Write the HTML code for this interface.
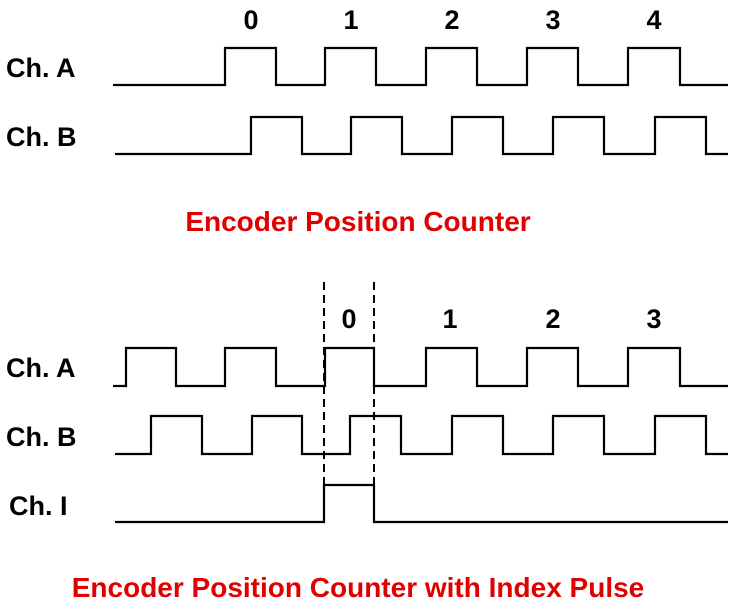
<!DOCTYPE html>
<html><head><style>
html,body{margin:0;padding:0;background:#fff;width:739px;height:603px;overflow:hidden}
text{font-family:"Liberation Sans",Arial,sans-serif;font-weight:bold}
</style></head><body>
<svg width="739" height="603" viewBox="0 0 739 603" xmlns="http://www.w3.org/2000/svg">
<g fill="none" stroke="#000" stroke-width="2.2">
<polyline points="113,85 225,85 225,48 276,48 276,85 325,85 325,48 376,48 376,85 426,85 426,48 477,48 477,85 527,85 527,48 578,48 578,85 628,85 628,48 680,48 680,85 728,85"/>
<polyline points="115,154 251,154 251,117 302,117 302,154 351,154 351,117 402,117 402,154 452,154 452,117 503,117 503,154 553,154 553,117 604,117 604,154 655,154 655,117 706,117 706,154 728,154"/>
<polyline points="113,386 126,386 126,348 176,348 176,386 225,386 225,348 276,348 276,386 325,386 325,348 374,348 374,386 426,386 426,348 477,348 477,386 527,386 527,348 578,348 578,386 628,386 628,348 680,348 680,386 728,386"/>
<polyline points="115,454 151,454 151,416 202,416 202,454 252,454 252,416 302,416 302,454 350,454 350,416 401,416 401,454 452,454 452,416 503,416 503,454 553,454 553,416 604,416 604,454 655,454 655,416 706,416 706,454 728,454"/>
<polyline points="115,522 324,522 324,485 374,485 374,522 728,522"/>
</g>
<g stroke="#000" stroke-width="2" stroke-dasharray="8,5">
<line x1="324" y1="282" x2="324" y2="522"/>
<line x1="374" y1="282" x2="374" y2="522"/>
</g>
<g font-size="27" fill="#000">
<text x="6" y="77">Ch. A</text>
<text x="6" y="146">Ch. B</text>
<text x="6" y="377">Ch. A</text>
<text x="6" y="446">Ch. B</text>
<text x="9" y="515">Ch. I</text>
</g>
<g font-size="27" fill="#000" text-anchor="middle">
<text x="251" y="29">0</text><text x="351" y="29">1</text><text x="452" y="29">2</text><text x="553" y="29">3</text><text x="654" y="29">4</text>
<text x="349" y="328">0</text><text x="450" y="328">1</text><text x="553" y="328">2</text><text x="654" y="328">3</text>
</g>
<g font-size="28" fill="#e00000" text-anchor="middle">
<text x="358" y="231">Encoder Position Counter</text>
<text x="358" y="597">Encoder Position Counter with Index Pulse</text>
</g>
</svg>
</body></html>
